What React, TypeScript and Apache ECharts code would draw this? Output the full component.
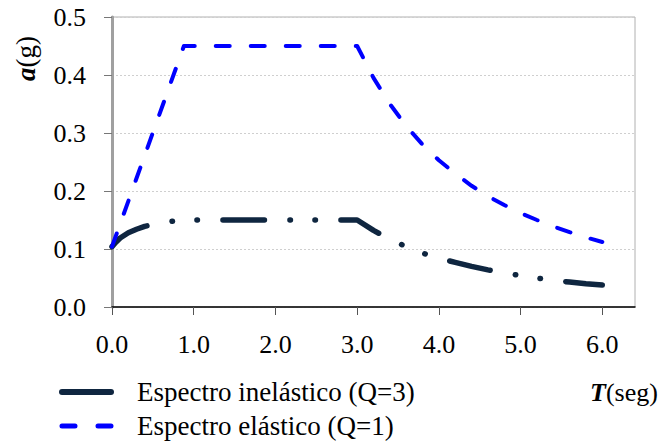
import React, { useEffect, useRef } from 'react';
import * as echarts from 'echarts';

const seriesNames = ['Espectro inelástico (Q=3)', 'Espectro elástico (Q=1)'];

const inelasticT = [0, 0.05, 0.1, 0.2, 0.3, 0.4, 0.5, 0.6, 0.7, 0.8, 0.88, 3.0, 3.2, 3.4, 3.6, 3.8, 4.0, 4.2, 4.4, 4.6, 4.8, 5.0, 5.2, 5.4, 5.6, 5.8, 6.0];
const inelasticA = [0.104, 0.112, 0.119, 0.128, 0.134, 0.139, 0.142, 0.145, 0.147, 0.149, 0.15, 0.15, 0.132, 0.117, 0.104, 0.093, 0.084, 0.077, 0.070, 0.064, 0.059, 0.054, 0.050, 0.046, 0.043, 0.040, 0.038];

const elasticT = [0, 0.88, 3.0, 3.2, 3.4, 3.6, 3.8, 4.0, 4.2, 4.4, 4.6, 4.8, 5.0, 5.2, 5.4, 5.6, 5.8, 6.0];
const elasticA = [0.104, 0.45, 0.45, 0.395, 0.350, 0.312, 0.280, 0.253, 0.230, 0.209, 0.191, 0.176, 0.162, 0.150, 0.139, 0.129, 0.120, 0.112];

const xTickValues = [0, 1, 2, 3, 4, 5, 6];

const FONT = 'Liberation Serif';
const NAVY = '#0f2640';
const BLUE = '#0000ff';

export default function App() {
  const ref = useRef<HTMLDivElement>(null);
  useEffect(() => {
    const chart = echarts.init(ref.current!, null, { renderer: 'svg' });
    const inelasticData = inelasticT.map((t, i) => [t, inelasticA[i]]);
    const elasticData = elasticT.map((t, i) => [t, elasticA[i]]);
    chart.setOption({
      animation: false,
      backgroundColor: '#ffffff',
      grid: {
        left: 112,
        right: 27,
        top: 17,
        bottom: 134,
        show: true,
        borderColor: '#b0b0b0',
        borderWidth: 1,
        outerBoundsMode: 'none',
      },
      graphic: [
        {
          type: 'text',
          x: 26,
          y: 58.5,
          rotation: Math.PI / 2,
          style: {
            text: '{b|a}{n|(g)}',
            align: 'center',
            verticalAlign: 'middle',
            fill: '#000',
            rich: {
              b: { fontFamily: FONT, fontSize: 27, fontWeight: 'bold', fontStyle: 'italic', fill: '#000' },
              n: { fontFamily: FONT, fontSize: 27, fill: '#000' },
            },
          },
        },
      ],
      legend: {
        orient: 'vertical',
        left: 59,
        top: 378,
        padding: 0,
        itemWidth: 49,
        itemHeight: 14,
        itemGap: 6,
        itemStyle: { opacity: 0 },
        textStyle: { fontFamily: FONT, fontSize: 27, color: '#000', lineHeight: 28, padding: [0, 0, 0, 21] },
        data: [
          { name: seriesNames[0], itemStyle: { opacity: 0 }, lineStyle: { type: 'solid', width: 6, cap: 'round', color: NAVY } },
          { name: seriesNames[1], itemStyle: { opacity: 0 }, lineStyle: { type: [13, 23], width: 5, cap: 'round', color: BLUE } },
        ],
      },
      xAxis: {
        type: 'value',
        min: 0,
        max: 6.4,
        name: '{b|T}(seg)',
        nameLocation: 'end',
        nameGap: -45,
        nameMoveOverlap: false,
        nameTextStyle: {
          fontFamily: FONT,
          fontSize: 26,
          color: '#000',
          align: 'left',
          verticalAlign: 'top',
          lineHeight: 30,
          padding: [70, 0, 0, 0],
          rich: { b: { fontFamily: FONT, fontSize: 26, fontWeight: 'bold', fontStyle: 'italic', color: '#000', lineHeight: 30 } },
        },
        axisLine: { show: true, onZero: false, lineStyle: { color: '#000', width: 1.5 } },
        axisTick: { show: true, customValues: xTickValues, length: 8, lineStyle: { color: '#555', width: 1 } },
        axisLabel: {
          customValues: xTickValues,
          formatter: (v: number) => v.toFixed(1),
          fontFamily: FONT,
          fontSize: 26,
          color: '#000',
          margin: 24,
        },
        splitLine: { show: false },
      },
      yAxis: [
        {
          type: 'value',
          min: 0,
          max: 0.5,
          interval: 0.1,
          axisLine: { show: true, onZero: false, lineStyle: { color: '#000', width: 1.5 } },
          axisTick: { show: true, length: 8, lineStyle: { color: '#777', width: 1 } },
          axisLabel: {
            formatter: (v: number) => v.toFixed(1),
            fontFamily: FONT,
            fontSize: 26,
            color: '#000',
            margin: 26,
          },
          splitLine: { show: true, lineStyle: { color: '#cfcfcf', width: 1, type: [2, 2] } },
        },
        {
          type: 'value',
          min: 0,
          max: 0.5,
          position: 'right',
          axisLine: { show: true, lineStyle: { color: '#a0a0a0', width: 3 } },
          axisTick: { show: false },
          axisLabel: { show: false },
          splitLine: { show: false },
        },
      ],
      series: [
        {
          name: seriesNames[0],
          type: 'line',
          data: inelasticData,
          symbol: 'none',
          z: 2,
          lineStyle: { color: NAVY, width: 5.5, cap: 'round', join: 'round', type: [41.5, 25.5, 0.5, 24.5, 0.5, 25.5] },
          itemStyle: { color: NAVY },
        },
        {
          name: seriesNames[1],
          type: 'line',
          data: elasticData,
          symbol: 'none',
          z: 3,
          lineStyle: { color: BLUE, width: 4, cap: 'round', join: 'round', type: [14, 21] },
          itemStyle: { color: BLUE },
        },
      ],
    });
    return () => chart.dispose();
  }, []);
  return <div ref={ref} style={{ position: 'fixed', left: 0, top: 0, width: 662, height: 441 }} />;
}
